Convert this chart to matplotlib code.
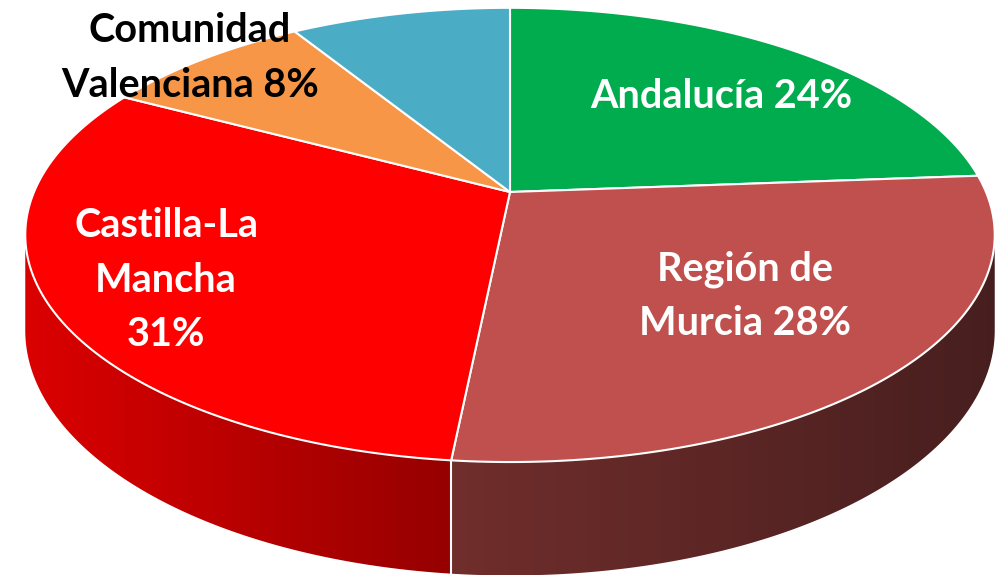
import numpy as np
import matplotlib.pyplot as plt
from matplotlib.patches import Polygon

# data (shares; labels show rounded %)
regions = ["Andalucía", "Región de\nMurcia", "Castilla-La\nMancha", "Comunidad\nValenciana", "Otras"]
shares = [23.8, 27.8, 31.2, 8.4, 8.8]
show_label = [True, True, True, True, False]

top_colors = ["#00AC4E", "#C0504D", "#FF0000", "#F79646", "#4BACC6"]
side_colors = [None, ((0.44, 0.18, 0.17), (0.28, 0.12, 0.12)),
               ((0.86, 0.0, 0.0), (0.59, 0.0, 0.0)), None, None]
text_colors = ["white", "white", "white", "black", "white"]
# label anchors in pixel space (layout only)
label_pos = [(721, 97), (745, 296), (166, 280), (190, 58), None]

W, H = 1007, 577
CX, CY = 510, 192      # where the slices meet
A, B = 476, 219        # radii of the top
K = 0.189              # perspective
HS = 92                # thickness


def proj(phi, r=1.0, drop=0.0):
    p = np.radians(phi)
    u = r * np.cos(p)
    v = r * np.sin(p)
    w = 1 + K * v
    return CX + A * u / w, CY - B * v / w + HS * drop / w


fig = plt.figure(figsize=(W / 100, H / 100), dpi=100)
ax = fig.add_axes([0, 0, 1, 1])
ax.axis("off")

# slice angles, clockwise from the top
bounds = 90 - np.concatenate([[0], np.cumsum(shares)]) * 3.6
vis_lo, vis_hi = 180 + np.degrees(np.arcsin(K)), 360 - np.degrees(np.arcsin(K))

# side wall, gradient image clipped to each slice's wall
for i in range(len(shares)):
    if side_colors[i] is None:
        continue
    a0, a1 = bounds[i + 1] % 360, bounds[i] % 360
    if a1 <= a0:
        a1 += 360
    lo, hi = max(a0, vis_lo), min(a1, vis_hi)
    if hi <= lo:
        continue
    angs = np.linspace(lo, hi, 300)
    top = [proj(a) for a in angs]
    bot = [proj(a, drop=1) for a in angs[::-1]]
    wall = Polygon(top + bot, closed=True, facecolor="none", edgecolor="none",
                   transform=ax.transData)
    ax.add_patch(wall)
    xs = [p[0] for p in top]
    ys = [p[1] for p in top + bot]
    c0, c1 = np.array(side_colors[i][0]), np.array(side_colors[i][1])
    t = np.linspace(0, 1, 256)[:, None]
    grad = (c0 + (c1 - c0) * t)[None, :, :]
    im = ax.imshow(grad, extent=(min(xs), max(xs), max(ys), min(ys)),
                   aspect="auto", interpolation="bilinear", zorder=1)
    im.set_clip_path(wall)

# white seam on the wall between the two front slices
seam = bounds[2] % 360
sx0, sy0 = proj(seam)
sx1, sy1 = proj(seam, drop=1)
ax.plot([sx0, sx1], [sy0, sy1], color="white", lw=1.5, zorder=2)

# top face
for i in range(len(shares)):
    angs = np.linspace(bounds[i], bounds[i + 1], 120)
    pts = [(CX, CY)] + [proj(a) for a in angs]
    ax.add_patch(Polygon(pts, closed=True, facecolor=top_colors[i],
                         edgecolor="white", linewidth=1.5, joinstyle="round", zorder=3))

# labels
for i, name in enumerate(regions):
    if not show_label[i]:
        continue
    pct = f"{round(shares[i])}%"
    if i == 2:
        txt = name + "\n" + pct
    else:
        txt = name + " " + pct
    ax.text(label_pos[i][0], label_pos[i][1], txt, ha="center", va="center",
            color=text_colors[i], fontsize=28.5, fontweight="bold",
            family=["Lato", "DejaVu Sans"], linespacing=1.57, zorder=4)

ax.set_xlim(0, W)
ax.set_ylim(H, 0)
fig.savefig("out.png", dpi=100)
